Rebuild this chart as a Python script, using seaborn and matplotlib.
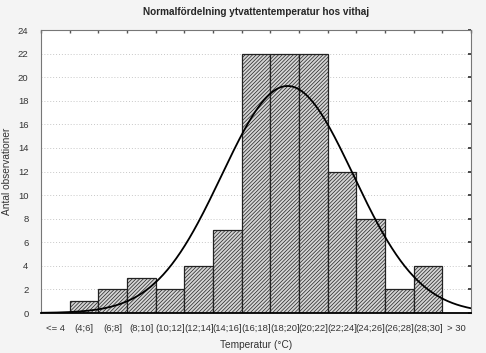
import numpy as np
import pandas as pd
import matplotlib
matplotlib.use('Agg')
import matplotlib.pyplot as plt
import seaborn as sns

# data
categories = ['<= 4', '(4;6]', '(6;8]', '(8;10]', '(10;12]', '(12;14]', '(14;16]',
              '(16;18]', '(18;20]', '(20;22]', '(22;24]', '(24;26]', '(26;28]',
              '(28;30]', '> 30']
counts = [0, 1, 2, 3, 2, 4, 7, 22, 22, 22, 12, 8, 2, 4, 0]
# fitted normal curve parameters (temperature, °C)
fit_mean = 19.2
fit_sd = 4.6
bin_width = 2
first_center = 3  # centre of the "<= 4" class

sns.set_theme(style='white')
plt.rcParams['font.family'] = ['Liberation Sans', 'DejaVu Sans']
plt.rcParams['hatch.linewidth'] = 0.5

fig = plt.figure(figsize=(4.86, 3.53), dpi=100, facecolor='#f4f4f4')
ax = fig.add_axes([0.0844, 0.1133, 0.8848, 0.8017])
ax.set_facecolor('white')

df = pd.DataFrame({'klass': categories, 'antal': counts})
sns.barplot(data=df, x='klass', y='antal', color='#d4d4d4', width=1.0,
            edgecolor='#222222', linewidth=0.9, saturation=1, ax=ax, zorder=2)
for p in ax.patches:
    p.set_hatch('/////////')

# normal curve in category coordinates
n = sum(counts)
temps = np.linspace(first_center - bin_width / 2, first_center + bin_width * (len(categories) - 0.5), 300)
dens = n * bin_width / (fit_sd * np.sqrt(2 * np.pi)) * np.exp(-0.5 * ((temps - fit_mean) / fit_sd) ** 2)
xpos = (temps - first_center) / bin_width
sns.lineplot(x=xpos, y=dens, color='black', linewidth=1.3, ax=ax, zorder=3)

ax.set_xlim(-0.5, len(categories) - 0.5)
ax.set_ylim(0, 24)
ax.set_yticks(range(0, 25, 2))
ax.yaxis.grid(True, linestyle=(0, (1, 2)), color='#c8c8c8', linewidth=0.7, zorder=0)
ax.set_axisbelow(True)

ax.set_xticks(np.arange(-0.5, len(categories), 1), minor=True)
ax.tick_params(axis='x', which='major', length=0, labelsize=6.8, pad=8, colors='#333333')
ax.tick_params(axis='x', which='minor', top=True, bottom=False, length=2, direction='in', color='#555555')
ax.tick_params(axis='y', which='major', left=False, right=True, length=2, direction='in',
               labelsize=6.8, colors='#333333', pad=9)

for s in ['left', 'top', 'right']:
    ax.spines[s].set_color('#777777')
    ax.spines[s].set_linewidth(0.8)
ax.spines['bottom'].set_color('black')
ax.spines['bottom'].set_linewidth(1.3)

ax.set_xlabel('Temperatur (°C)', fontsize=7.3, color='#333333', labelpad=5)
ax.set_ylabel('Antal observationer', fontsize=7.3, color='#333333', labelpad=4)
ax.set_title('Normalfördelning ytvattentemperatur hos vithaj', fontsize=7.2,
             fontweight='bold', pad=11)

fig.savefig('out.png', dpi=100, facecolor=fig.get_facecolor())
